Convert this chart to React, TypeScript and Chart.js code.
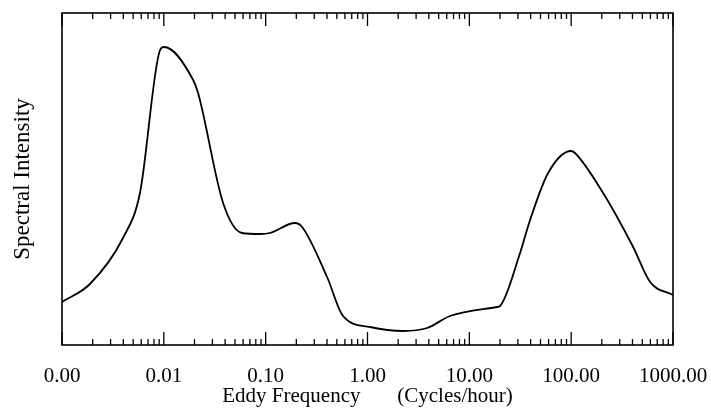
import React, { useEffect, useRef } from "react";
import { Chart, registerables } from "chart.js";

Chart.register(...registerables);

// Eddy frequency (cycles/hour) and spectral intensity (arbitrary units)
const frequency = [
  0.001, 0.00188, 0.00397, 0.00583, 0.00918, 0.01, 0.0194, 0.0217, 0.0382, 0.0586,
  0.0881, 0.11, 0.194, 0.228, 0.401, 0.575, 1.06, 2.24, 3.85, 6.47, 18.7, 20, 31.5,
  39.5, 59.4, 99.8, 109, 206, 406, 596, 1000,
];
const intensity = [
  43, 61, 107, 152, 295, 298, 265, 252, 142, 112, 111, 112, 122, 118, 68, 29, 18, 14,
  17, 29, 38, 39, 92, 125, 172, 194, 192, 152, 98, 63, 50,
];
const decadeTicks = [0.001, 0.01, 0.1, 1, 10, 100, 1000];
const minorMultipliers = [2, 3, 4, 5, 6, 7, 8, 9];

const xTitle = "Eddy Frequency       (Cycles/hour)";
const yTitle = "Spectral Intensity";

const FONT = "'Liberation Serif', 'Times New Roman', serif";

const framePlugin = {
  id: "frameTicks",
  afterDatasetsDraw(chart: any) {
    const { ctx, chartArea, scales } = chart;
    const { left, right, top, bottom } = chartArea;
    const x = scales.x;
    ctx.save();
    ctx.strokeStyle = "#000";
    ctx.lineWidth = 1.6;
    ctx.strokeRect(left, top, right - left, bottom - top);
    ctx.lineWidth = 1.3;
    const drawTick = (v: number, len: number) => {
      const px = x.getPixelForValue(v);
      ctx.beginPath();
      ctx.moveTo(px, bottom);
      ctx.lineTo(px, bottom - len);
      ctx.moveTo(px, top);
      ctx.lineTo(px, top + len);
      ctx.stroke();
    };
    decadeTicks.forEach((d, i) => {
      drawTick(d, 13);
      if (i < decadeTicks.length - 1) {
        minorMultipliers.forEach((m) => drawTick(d * m, 6));
      }
    });
    ctx.restore();
  },
};

export default function App() {
  const ref = useRef<HTMLCanvasElement | null>(null);
  useEffect(() => {
    if (!ref.current) return;
    const chart = new Chart(ref.current, {
      type: "line",
      data: {
        datasets: [
          {
            data: frequency.map((f, i) => ({ x: f, y: intensity[i] })),
            borderColor: "#000",
            borderWidth: 1.8,
            pointRadius: 0,
            fill: false,
            cubicInterpolationMode: "monotone",
          },
        ],
      },
      options: {
        animation: false,
        responsive: true,
        maintainAspectRatio: false,
        layout: { padding: { top: 13, right: 38, left: 0, bottom: 0 } },
        plugins: { legend: { display: false }, tooltip: { enabled: false } },
        scales: {
          x: {
            type: "logarithmic",
            min: 0.001,
            max: 1000,
            grid: { display: false },
            border: { display: false },
            afterBuildTicks: (scale: any) => {
              scale.ticks = decadeTicks.map((v) => ({ value: v }));
            },
            afterFit: (scale: any) => {
              scale.height = 65;
              scale.paddingLeft = 0;
              scale.paddingRight = 0;
            },
            ticks: {
              autoSkip: false,
              maxRotation: 0,
              padding: 11,
              color: "#000",
              font: { family: FONT, size: 21 },
              callback: (v: any) => Number(v).toFixed(2),
            },
            title: {
              display: true,
              text: xTitle,
              color: "#000",
              font: { family: FONT, size: 21 },
              padding: { top: 0, bottom: 1 },
            },
          },
          y: {
            min: 0,
            max: 332,
            grid: { display: false },
            border: { display: false },
            ticks: { display: false },
            afterFit: (scale: any) => {
              scale.width = 62;
            },
            title: {
              display: true,
              text: yTitle,
              color: "#000",
              font: { family: FONT, size: 23 },
              padding: { top: 9, bottom: 0 },
            },
          },
        },
      },
      plugins: [framePlugin],
    });
    return () => chart.destroy();
  }, []);
  return (
    <div style={{ position: "absolute", left: 0, top: 0, width: 711, height: 410 }}>
      <canvas ref={ref} />
    </div>
  );
}
